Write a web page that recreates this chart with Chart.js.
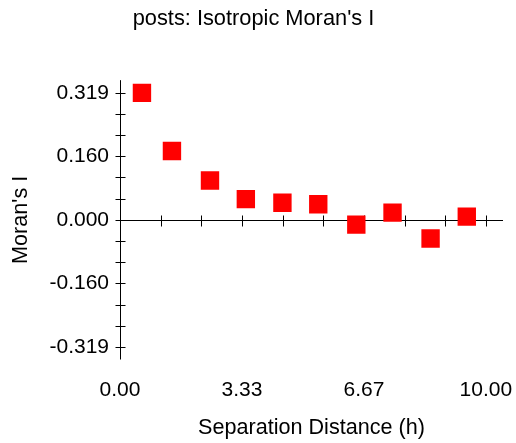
<!DOCTYPE html>
<html>
<head>
<meta charset="utf-8">
<script src="https://cdn.jsdelivr.net/npm/chart.js@4.4.1/dist/chart.umd.min.js"></script>
<style>
  html, body { margin: 0; padding: 0; background: #fff; }
  canvas { display: block; }
</style>
</head>
<body>
<canvas id="graficaMoran" width="516" height="443"></canvas>
<script>
// Datos
const distancias = [0.60, 1.42, 2.46, 3.44, 4.44, 5.42, 6.46, 7.45, 8.49, 9.48];
const moranI = [0.319, 0.173, 0.099, 0.052, 0.043, 0.039, -0.012, 0.018, -0.047, 0.008];
const xTicks = [0, 3.333, 6.667, 10];
const yTicks = [-0.319, -0.16, 0, 0.16, 0.319];

const familia = "'Liberation Sans', Arial, sans-serif";
const fuente = { family: familia, size: 21, weight: "normal" };
const fuenteTitulo = { family: familia, size: 21.8, weight: "normal" };
const fuenteEje = { family: familia, size: 21.6, weight: "normal" };

// Ticks menores: 2 divisiones entre cada tick mayor
function conMenores(ticks) {
  const out = [];
  for (let i = 0; i < ticks.length; i++) {
    out.push(ticks[i]);
    if (i < ticks.length - 1) {
      const paso = (ticks[i + 1] - ticks[i]) / 3;
      out.push(ticks[i] + paso, ticks[i] + 2 * paso);
    }
  }
  return out;
}

// Ejes cruzados en x=0 / y=0, dibujados antes de los puntos
const ejesPlugin = {
  id: "ejes",
  beforeDatasetsDraw(chart) {
    const ctx = chart.ctx;
    const area = chart.chartArea;
    const sx = chart.scales.x;
    const sy = chart.scales.y;
    const x0 = Math.round(sx.getPixelForValue(0)) + 0.5;
    const y0 = Math.round(sy.getPixelForValue(0)) + 0.5;

    ctx.save();
    ctx.strokeStyle = "#000";
    ctx.lineWidth = 1;
    ctx.beginPath();
    ctx.moveTo(x0, area.top);
    ctx.lineTo(x0, area.bottom);
    ctx.moveTo(x0, y0);
    ctx.lineTo(area.right, y0);

    conMenores(yTicks).forEach((v) => {
      const py = Math.round(sy.getPixelForValue(v)) + 0.5;
      ctx.moveTo(x0 - 5, py);
      ctx.lineTo(x0 + 5, py);
    });
    conMenores(xTicks).forEach((v) => {
      if (v === 0) return;
      const px = Math.round(sx.getPixelForValue(v)) + 0.5;
      ctx.moveTo(px, y0 - 5);
      ctx.lineTo(px, y0 + 6);
    });
    ctx.stroke();
    ctx.restore();
  },
};

const ctx = document.getElementById("graficaMoran").getContext("2d");
window.myChart = new Chart(ctx, {
  type: "scatter",
  data: {
    datasets: [
      {
        label: "Moran's I",
        data: distancias.map((d, i) => ({ x: d, y: moranI[i] })),
        pointStyle: "rect",
        pointRadius: 13,
        pointHoverRadius: 13,
        backgroundColor: "#ff0000",
        borderColor: "#ff0000",
        borderWidth: 0,
      },
    ],
  },
  options: {
    responsive: false,
    animation: false,
    layout: { padding: { left: 4, right: 13, top: 0, bottom: 0 } },
    plugins: {
      legend: { display: false },
      tooltip: { enabled: false },
      title: {
        display: true,
        text: "posts: Isotropic Moran's I",
        color: "#000",
        font: fuenteTitulo,
        padding: { top: 6, bottom: 48 },
      },
    },
    scales: {
      x: {
        type: "linear",
        min: 0,
        max: 10.47,
        grid: { display: false, drawTicks: false },
        border: { display: false },
        afterBuildTicks: (s) => {
          s.ticks = xTicks.map((v) => ({ value: v }));
        },
        ticks: {
          callback: (v) => v.toFixed(2),
          color: "#000",
          font: fuente,
          padding: 18,
          maxRotation: 0,
          autoSkip: false,
        },
        title: {
          display: true,
          text: "Separation Distance (h)",
          color: "#000",
          font: fuenteEje,
          padding: { top: 0, bottom: 2 },
        },
        afterFit: (s) => {
          s.height = 83.5;
          s.paddingLeft = 0;
          s.paddingRight = 0;
        },
      },
      y: {
        type: "linear",
        min: -0.351,
        max: 0.351,
        grid: { display: false, drawTicks: false },
        border: { display: false },
        afterBuildTicks: (s) => {
          s.ticks = yTicks.map((v) => ({ value: v }));
        },
        ticks: {
          callback: (v) => v.toFixed(3),
          color: "#000",
          font: fuente,
          padding: 11,
          autoSkip: false,
        },
        title: {
          display: true,
          text: "Moran's I",
          color: "#000",
          font: fuenteEje,
          padding: { top: 4, bottom: 0 },
        },
        afterFit: (s) => {
          s.width = 116;
          s.paddingTop = 0;
          s.paddingBottom = 0;
        },
      },
    },
  },
  plugins: [ejesPlugin],
});
</script>
</body>
</html>
